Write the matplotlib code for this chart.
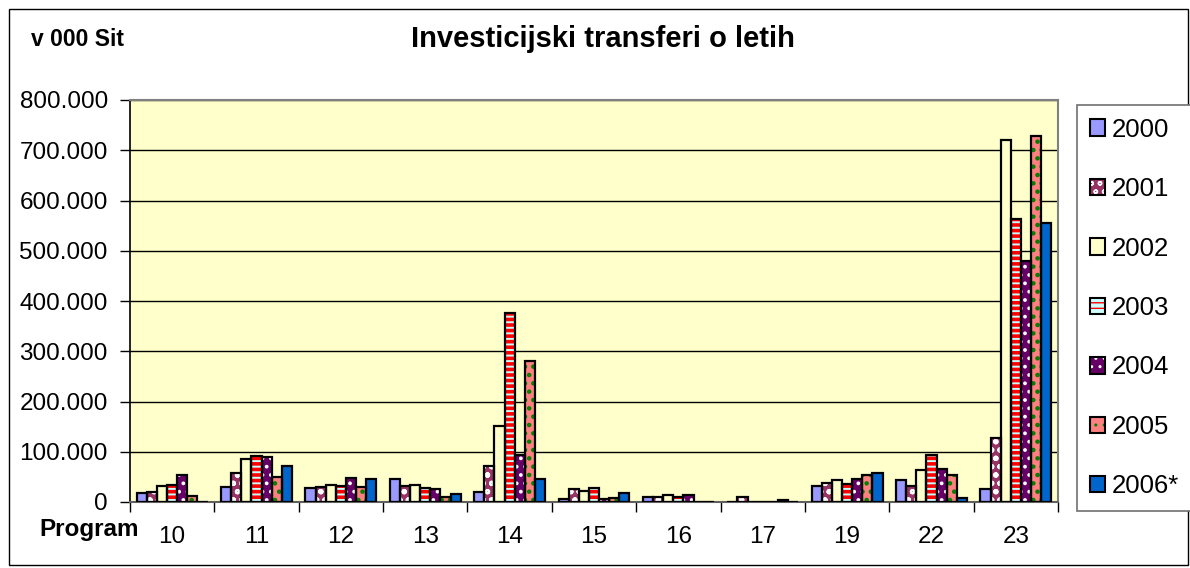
import matplotlib
matplotlib.use('Agg')
import matplotlib.pyplot as plt
import numpy as np
from matplotlib.patches import Rectangle
from matplotlib.legend_handler import HandlerTuple
from matplotlib.ticker import FuncFormatter, MultipleLocator, FixedLocator

plt.rcParams['font.family'] = ['Liberation Sans', 'DejaVu Sans']

# ---- data (v 000 Sit) ----
programs = ['10', '11', '12', '13', '14', '15', '16', '17', '19', '22', '23']
years = ['2000', '2001', '2002', '2003', '2004', '2005', '2006*']
y2000 = [17000, 29000, 27000, 45000, 19000, 6000, 9000, 0, 31000, 43000, 26000]
y2001 = [19000, 58000, 29000, 31000, 71000, 25000, 9000, 10000, 37000, 32000, 128000]
y2002 = [31000, 85000, 33000, 33000, 151000, 22000, 14000, 0, 44000, 63000, 720000]
y2003 = [33000, 91000, 31000, 27000, 377000, 28000, 10000, 0, 36000, 93000, 564000]
y2004 = [53000, 90000, 48000, 25000, 93000, 6000, 13000, 0, 46000, 66000, 480000]
y2005 = [11000, 49000, 29000, 10000, 281000, 8000, 0, 3000, 53000, 53000, 728000]
y2006 = [0, 71000, 45000, 15000, 45000, 18000, 0, 0, 57000, 7000, 556000]
series = [y2000, y2001, y2002, y2003, y2004, y2005, y2006]

# ---- styles ----
styles = [
    dict(face='#9999FF', hatch=None, hc=None, hlw=1.0),
    dict(face='#993366', hatch='oo', hc='white', hlw=1.5),
    dict(face='#FFFFCC', hatch=None, hc=None, hlw=1.0),
    dict(face='#CCFFFF', hatch='---', hc='#FF0000', hlw=2.6),
    dict(face='#660066', hatch='..', hc='white', hlw=1.5),
    dict(face='#FF8080', hatch='..', hc='#008000', hlw=2.0),
    dict(face='#0066CC', hatch=None, hc=None, hlw=1.0),
]

W, H = 1190, 568
fig = plt.figure(figsize=(W / 100, H / 100), dpi=100)
fig.patch.set_facecolor('white')

ax = fig.add_axes([130 / W, (H - 502) / H, 928 / W, 402 / H])
ax.set_facecolor('#FFFFCC')

x = np.arange(len(programs))
bw = 0.12


def apply_hlw(patches, lw):
    for p in patches:
        if hasattr(p, 'set_hatch_linewidth'):
            p.set_hatch_linewidth(lw)


for i, (vals, st) in enumerate(zip(series, styles)):
    offs = (i - 3) * bw
    with plt.rc_context({'hatch.linewidth': st['hlw']}):
        bars = ax.bar(x + offs, vals, bw, color=st['face'],
                      edgecolor=st['hc'] if st['hc'] else st['face'],
                      linewidth=0, hatch=st['hatch'], zorder=2)
    apply_hlw(bars, st['hlw'])
    ax.bar(x + offs, vals, bw, fill=False, edgecolor='black',
           linewidth=1.6, zorder=3)

ax.set_xlim(-0.5, len(programs) - 0.5)
ax.set_ylim(0, 800000)
ax.yaxis.set_major_locator(MultipleLocator(100000))
ax.yaxis.set_major_formatter(FuncFormatter(lambda v, p: f"{int(v):,}".replace(',', '.')))
ax.yaxis.grid(True, color='black', linewidth=1.0)
ax.set_axisbelow(True)

ax.xaxis.set_major_locator(FixedLocator(np.arange(-0.5, len(programs), 1.0)))
ax.xaxis.set_major_formatter(FuncFormatter(lambda v, p: ''))
ax.xaxis.set_minor_locator(FixedLocator(x))
ax.set_xticklabels(programs, minor=True)
ax.tick_params(axis='x', which='major', length=7, width=1, color='black', direction='out')
ax.tick_params(axis='x', which='minor', length=0, pad=17, labelsize=17.5)
ax.tick_params(axis='y', which='major', length=7, width=1, color='black', direction='out',
               pad=9, labelsize=17.5)

for s in ['top', 'right']:
    ax.spines[s].set_color('#808080')
    ax.spines[s].set_linewidth(1.5)
ax.spines['left'].set_color('black')
ax.spines['left'].set_linewidth(1.2)
ax.spines['bottom'].set_color('#606060')
ax.spines['bottom'].set_linewidth(1.5)

# texts
fig.text(603 / W, 1 - 39 / H, 'Investicijski transferi o letih', ha='center', va='center',
         fontsize=21, fontweight='bold')
fig.text(31 / W, 1 - 39 / H, 'v 000 Sit', ha='left', va='center',
         fontsize=16.5, fontweight='bold')
fig.text(39 / W, 1 - 536 / H, 'Program', ha='left', va='baseline',
         fontsize=17.5, fontweight='bold')

# legend
handles = []
for st in styles:
    with plt.rc_context({'hatch.linewidth': min(st['hlw'], 1.5)}):
        base = Rectangle((0, 0), 1, 1, facecolor=st['face'],
                         edgecolor=st['hc'] if st['hc'] else st['face'],
                         linewidth=0, hatch=st['hatch'])
    if hasattr(base, 'set_hatch_linewidth'):
        base.set_hatch_linewidth(min(st['hlw'], 1.5))
    outline = Rectangle((0, 0), 1, 1, fill=False, edgecolor='black', linewidth=1.5)
    handles.append((base, outline))

leg = fig.legend(handles, years, loc='center', bbox_to_anchor=(1134.5 / W, 1 - 308 / H),
                 handler_map={tuple: HandlerTuple(ndivide=1, pad=0)},
                 fontsize=18.5, handlelength=0.6, handleheight=0.6, handletextpad=0.25,
                 labelspacing=1.38, borderpad=0.5, borderaxespad=0,
                 fancybox=False, framealpha=1, edgecolor='#707070')
leg.get_frame().set_linewidth(1.2)

# outer frame
fig.add_artist(Rectangle((9 / W, 3 / H), 1179 / W, 556 / H, transform=fig.transFigure,
                         fill=False, edgecolor='black', linewidth=1.0))

fig.savefig('out.png', dpi=100)
